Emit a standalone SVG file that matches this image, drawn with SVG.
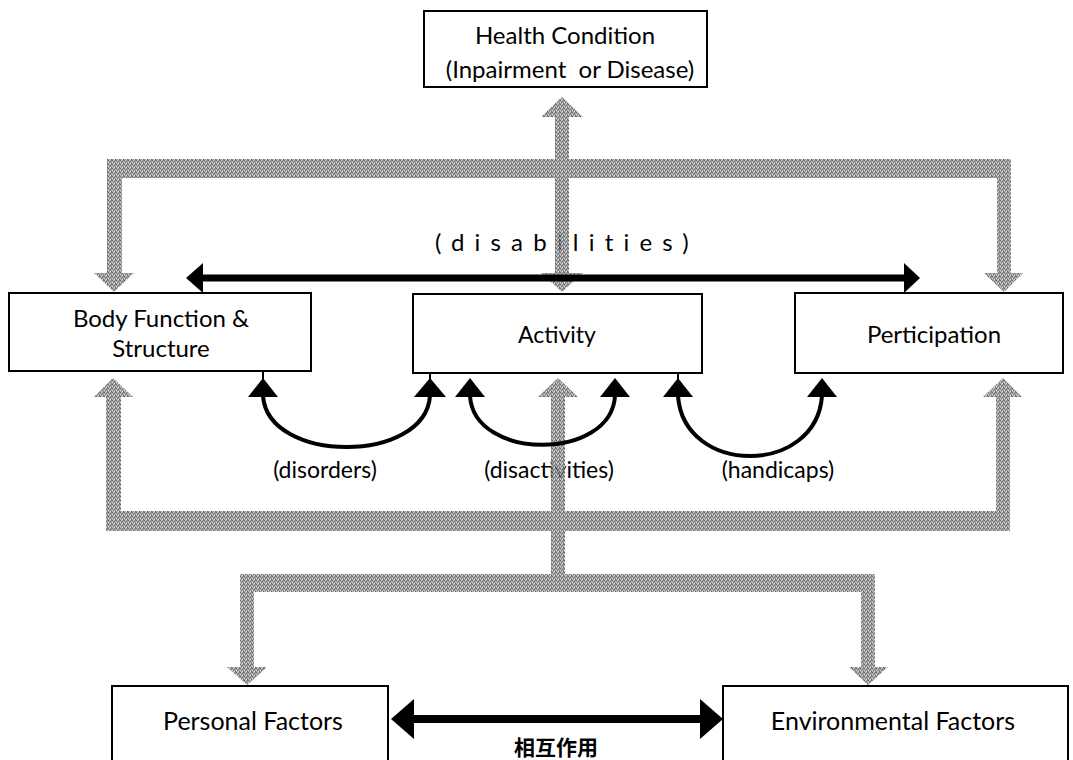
<svg xmlns="http://www.w3.org/2000/svg" width="1073" height="760" viewBox="0 0 1073 760">
<defs>
<pattern id="stip" width="4" height="4" patternUnits="userSpaceOnUse">
<rect width="4" height="4" fill="#929292"/>
<rect x="0" y="0" width="1" height="1" fill="#444"/>
<rect x="2" y="1" width="1" height="1" fill="#4e4e4e"/>
<rect x="1" y="2" width="1" height="1" fill="#565656"/>
<rect x="3" y="3" width="1" height="1" fill="#464646"/>
<rect x="3" y="0" width="1" height="1" fill="#666"/>
<rect x="2" y="3" width="1" height="1" fill="#dedede"/>
<rect x="0" y="2" width="1" height="1" fill="#d0d0d0"/>
<rect x="1" y="0" width="1" height="1" fill="#b8b8b8"/>
</pattern>
</defs>
<style>
.box{fill:#fff;stroke:#000;stroke-width:2}
.t{font-family:Lato,"Open Sans","Noto Sans",sans-serif;font-size:23px;fill:#000;text-anchor:middle;white-space:pre}
.cjk{font-family:"Noto Sans CJK JP",sans-serif;font-size:21px;font-weight:700;fill:#000;text-anchor:middle}
.gray{fill:url(#stip);opacity:0.82}
.blk{fill:#000}
.curve{fill:none;stroke:#000;stroke-width:4}
.bar{stroke:#000;stroke-width:7}
.tick{stroke:#000;stroke-width:2}
</style>
<rect width="1073" height="760" fill="#fff"/>

<g id="labels">
<text class="t" x="435" y="251" style="text-anchor:start;letter-spacing:10.2px;font-size:24px">(disabilities)</text>
<text class="t" x="325" y="478">(disorders)</text>
<text class="t" x="549" y="478">(disactivities)</text>
<text class="t" x="778" y="478">(handicaps)</text>
<text class="cjk" x="556" y="755">相互作用</text>
</g>

<g id="health">
<rect class="box" x="424" y="11" width="283" height="76"/>
<text class="t" x="565" y="44" style="font-size:24px">Health Condition</text>
<text class="t" x="570" y="78" style="font-size:24px" xml:space="preserve">(Inpairment  or Disease)</text>
</g>
<g id="body">
<rect class="box" x="9" y="293" width="302" height="78"/>
<text class="t" x="161" y="327" style="font-size:24px">Body Function &amp;</text>
<text class="t" x="161" y="357" style="font-size:24px">Structure</text>
</g>
<g id="activity">
<rect class="box" x="413" y="294" width="289" height="79"/>
<text class="t" x="557" y="343">Activity</text>
</g>
<g id="participation">
<rect class="box" x="795" y="293" width="268" height="80"/>
<text class="t" x="934" y="343" style="font-size:24px">Perticipation</text>
</g>
<g id="personal">
<rect class="box" x="112" y="686" width="276" height="80"/>
<text class="t" x="253" y="730" style="font-size:25px">Personal Factors</text>
</g>
<g id="environmental">
<rect class="box" x="723" y="686" width="345" height="80"/>
<text class="t" x="893" y="730" style="font-size:25px">Environmental Factors</text>
</g>

<g id="connectors">
<g id="gray-arrows" class="gray">
<rect x="107" y="159" width="904" height="19"/>
<rect x="107" y="159" width="15" height="115"/>
<polygon points="94,273 134,273 114,292"/>
<rect x="997" y="159" width="14" height="115"/>
<polygon points="984,273 1023,273 1004,292"/>
<rect x="555" y="116" width="14" height="158"/>
<polygon points="541,117 583,117 562,97"/>
<polygon points="541,273 583,273 562,292"/>
<polygon points="94,397 133,397 113,378"/>
<rect x="106" y="396" width="15" height="135"/>
<polygon points="983,397 1022,397 1003,378"/>
<rect x="996" y="396" width="14" height="135"/>
<rect x="106" y="511" width="904" height="20"/>
<polygon points="538,397 578,397 558,378"/>
<rect x="551" y="396" width="14" height="180"/>
<rect x="240" y="574" width="635" height="18"/>
<rect x="240" y="574" width="14" height="94"/>
<polygon points="227,667 267,667 247,685"/>
<rect x="861" y="574" width="14" height="94"/>
<polygon points="849,667 888,667 868,685"/>
</g>
<g id="black-arrows">
<line class="bar" x1="200" y1="278" x2="906" y2="278"/>
<polygon class="blk" points="186,278 203,263 203,293"/>
<polygon class="blk" points="920,278 904,263 904,293"/>
<line class="bar" x1="405" y1="719" x2="710" y2="719" style="stroke-width:8"/>
<polygon class="blk" points="391,719 414,699 414,739"/>
<polygon class="blk" points="723,719 700,699 700,739"/>
<path class="curve" d="M263 396 C268 464 425 464 430 396"/>
<polygon class="blk" points="263,378 248,397 278,397"/>
<polygon class="blk" points="430,378 414,397 446,397"/>
<line class="tick" x1="263" y1="371" x2="263" y2="380"/>
<line class="tick" x1="430" y1="373" x2="430" y2="380"/>
<path class="curve" d="M470 396 C474 461 611 461 615 396"/>
<polygon class="blk" points="470,378 455,397 485,397"/>
<polygon class="blk" points="615,378 600,397 630,397"/>
<path class="curve" d="M678 396 C684 476 816 476 822 396"/>
<polygon class="blk" points="678,378 663,397 693,397"/>
<polygon class="blk" points="822,378 807,397 837,397"/>
<line class="tick" x1="678" y1="373" x2="678" y2="380"/>
</g>
</g>
</svg>
